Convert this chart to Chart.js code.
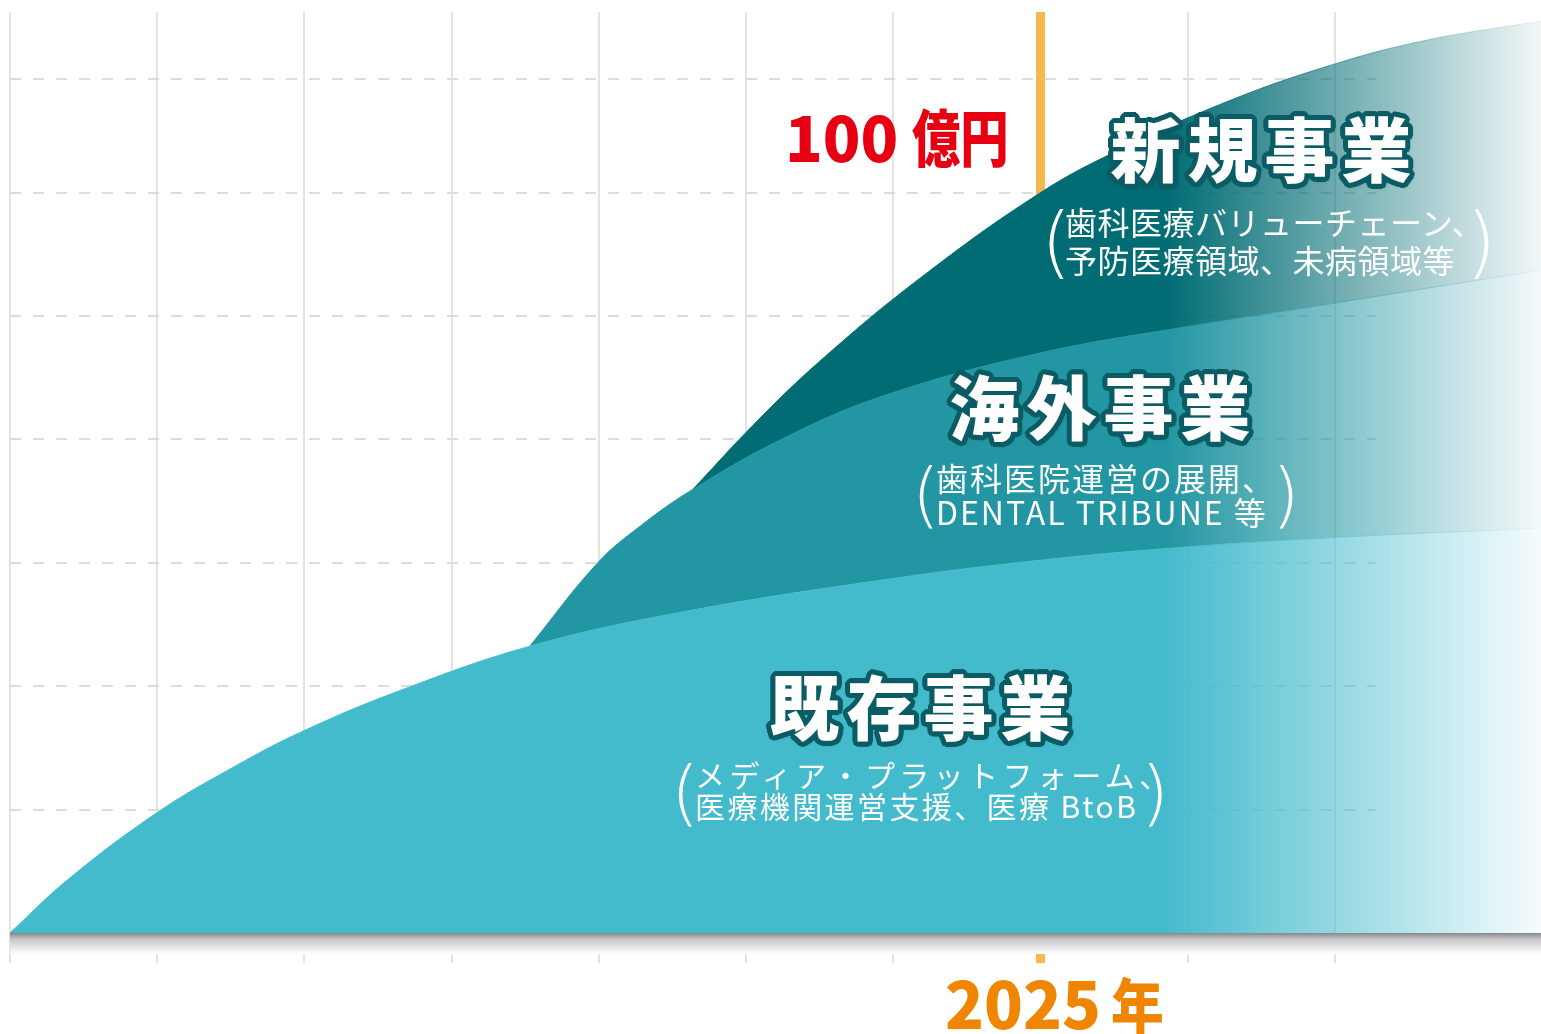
<!DOCTYPE html>
<html lang="ja">
<head>
<meta charset="utf-8">
<title>事業成長イメージ</title>
<script src="https://cdn.jsdelivr.net/npm/chart.js@4.4.0/dist/chart.umd.min.js"></script>
<style>
  html, body { margin: 0; padding: 0; background: #fff; }
  #wrap { position: relative; width: 1541px; height: 1034px; overflow: hidden;
          font-family: 'Noto Sans CJK JP', 'Noto Sans', sans-serif; }
  #wrap canvas { position: absolute; left: 0; top: 0; }
  .lbl { position: absolute; white-space: nowrap; line-height: 1; pointer-events: none; }
  .title { color: #fff; font-weight: 900; font-size: 70px; letter-spacing: 7px;
           transform: translate(-50%, -50%); padding-left: 7px; }
  .par { color: #fff; font-family: 'DejaVu Sans', sans-serif; font-weight: 200; }
  .lines { color: #fff; font-size: 32px; }
  .lines span { display: block; }
  .oku { color: #E60012; font-weight: 900; font-size: 62px; transform: translateY(-50%); }
  .oku .u { display: inline-block; transform: scaleX(.78); transform-origin: left center; margin-left: 14px; }
  .year { color: #EF8500; font-weight: 900; font-size: 64px; transform: translate(-50%, -50%); }
  .year .u { display: inline-block; margin-left: 10px; font-size: 60px; transform: scaleX(.88); transform-origin: left center; }
</style>
</head>
<body>
<div id="wrap">
  <canvas id="chart" width="1541" height="1034"></canvas>

  <div class="lbl oku" style="left:785px; top:135px;">100<span class="u">億円</span></div>

  <div class="lbl title" style="left:1261px; top:147px;">新規事業</div>
  <div class="lbl par" style="left:1041px; top:203px; font-size:78px;">(</div>
  <div class="lbl lines" style="left:1065px; top:202px; line-height:38px; letter-spacing:.5px;">
    <span>歯科医療バリューチェーン、</span><span>予防医療領域、未病領域等</span>
  </div>
  <div class="lbl par" style="left:1466px; top:203px; font-size:78px;">)</div>

  <div class="lbl title" style="left:1100px; top:405px;">海外事業</div>
  <div class="lbl par" style="left:912px; top:459px; font-size:71px;">(</div>
  <div class="lbl lines" style="left:936px; top:460px; line-height:34px; letter-spacing:2px;">
    <span>歯科医院運営の展開、</span><span>DENTAL TRIBUNE 等</span>
  </div>
  <div class="lbl par" style="left:1272px; top:459px; font-size:71px;">)</div>

  <div class="lbl title" style="left:920px; top:705px;">既存事業</div>
  <div class="lbl par" style="left:671px; top:756px; font-size:72px;">(</div>
  <div class="lbl lines" style="left:695px; top:759px; line-height:31px; font-size:30px;">
    <span style="letter-spacing:4.4px;">メディア・プラットフォーム、</span><span style="letter-spacing:2.4px;">医療機関運営支援、医療 BtoB</span>
  </div>
  <div class="lbl par" style="left:1141px; top:756px; font-size:72px;">)</div>

  <div class="lbl year" style="left:1058px; top:1001px;">2025<span class="u">年</span></div>
</div>

<script>
// 横軸 = 年、縦軸 = 億円（2025年の合計が100億円）
const xTicks = [2018, 2019, 2020, 2021, 2022, 2023, 2024, 2025, 2026, 2027];
const yTicks = [16.67, 33.33, 50, 66.67, 83.33, 100, 115.4];
const markYear = 2025;
const gridEndYear = 2027.27;   // 破線の横線はここまで

// 既存事業（いちばん下の層の上端）
const baseX = [2018, 2018.39, 2019, 2019.52, 2019.99, 2020.65, 2021.53, 2022.55, 2023.97, 2025, 2026, 2027.01, 2028.4];
const baseY = [0, 7.16, 16.27, 22.43, 27.26, 32.75, 38.72, 43.29, 47.8, 50.36, 52.15, 53.44, 54.69];
// 海外事業（累計）
const ovsX = [2021.53, 2021.99, 2022.28, 2022.64, 2023.28, 2023.96, 2025, 2026, 2027.01, 2028.4];
const ovsY = [38.72, 49.95, 54.94, 59.95, 67.06, 72.73, 78.34, 81.91, 85.12, 89.55];
// 新規事業（累計）
const newX = [2022.64, 2023.05, 2023.5, 2024.18, 2025, 2025.54, 2026.22, 2026.9, 2027.58, 2028.4];
const newY = [59.95, 68.63, 77.21, 88.42, 100, 105.83, 111.91, 116.77, 120.42, 123.2];

const C = { base: [68, 187, 205], ovs: [34, 150, 162], nw: [1, 108, 116] };

// 右端に向かって白くフェード
function fade(rgb) {
  const solid = `rgb(${rgb.join(',')})`;
  return (c) => {
    const a = c.chart.chartArea;
    if (!a) return solid;
    const g = c.chart.ctx.createLinearGradient(a.left, 0, a.right, 0);
    g.addColorStop(0, solid);
    g.addColorStop(0.755, solid);
    g.addColorStop(1, `rgba(${rgb.join(',')},0.05)`);
    return g;
  };
}

// 横の破線は右端まで伸ばさない
function yGridColor(c) {
  const chart = c.chart, a = chart.chartArea;
  if (!a) return '#dcdcdc';
  const stop = (chart.scales.x.getPixelForValue(gridEndYear) - a.left) / (a.right - a.left);
  const g = chart.ctx.createLinearGradient(a.left, 0, a.right, 0);
  g.addColorStop(0, '#dcdcdc');
  g.addColorStop(stop, '#dcdcdc');
  g.addColorStop(Math.min(1, stop + 0.001), 'rgba(220,220,220,0)');
  g.addColorStop(1, 'rgba(220,220,220,0)');
  return g;
}

const pts = (xs, ys) => xs.map((x, i) => ({ x, y: ys[i] }));

// 軸の下の影
const baseShadow = {
  id: 'baseShadow',
  afterDraw(chart) {
    const { ctx, chartArea: a } = chart;
    const g = ctx.createLinearGradient(0, a.bottom, 0, a.bottom + 21);
    g.addColorStop(0, 'rgb(135,135,138)');
    g.addColorStop(0.3, 'rgb(200,200,202)');
    g.addColorStop(1, 'rgb(255,255,255)');
    ctx.save();
    ctx.fillStyle = g;
    ctx.fillRect(a.left, a.bottom, a.right - a.left, 21);
    ctx.restore();
  }
};

// 見出しの縁取り
const ring = (r, col) => Array.from({ length: 24 }, (_, i) => {
  const t = i / 24 * Math.PI * 2;
  return `${(r * Math.cos(t)).toFixed(1)}px ${(r * Math.sin(t)).toFixed(1)}px 0 ${col}`;
}).join(',');
document.querySelectorAll('.title').forEach(el => {
  el.style.textShadow = ring(5, '#0B5C64') + ',' + ring(3, '#0B5C64') + ',2px 3px 4px rgba(0,40,45,.5)';
});

new Chart(document.getElementById('chart'), {
  type: 'line',
  data: {
    datasets: [
      { label: '既存事業', data: pts(baseX, baseY), fill: 'origin',
        backgroundColor: fade(C.base), borderColor: fade(C.base), borderWidth: 1 },
      { label: '海外事業', data: pts(ovsX, ovsY), fill: '-1',
        backgroundColor: fade(C.ovs), borderColor: fade(C.ovs), borderWidth: 1 },
      { label: '新規事業', data: pts(newX, newY), fill: '-1',
        backgroundColor: fade(C.nw), borderColor: fade(C.nw), borderWidth: 1 }
    ]
  },
  options: {
    responsive: false, animation: false,
    layout: { padding: { left: 10, top: 12, right: 0, bottom: 71 } },
    elements: { point: { radius: 0 }, line: { tension: 0.4 } },
    plugins: { legend: { display: false }, tooltip: { enabled: false } },
    scales: {
      x: {
        type: 'linear', min: 2018, max: 2028.4,
        afterBuildTicks: s => { s.ticks = xTicks.map(v => ({ value: v })); },
        ticks: { display: false },
        grid: {
          color: c => (c.tick && c.tick.value === markYear) ? '#F7B84D' : '#e3e3e3',
          lineWidth: c => (c.tick && c.tick.value === markYear) ? 9 : 2,
          drawTicks: true, tickLength: 30
        },
        border: { display: false }
      },
      y: {
        min: 0, max: 124.4,
        afterBuildTicks: s => { s.ticks = yTicks.map(v => ({ value: v })); },
        ticks: { display: false },
        grid: { color: yGridColor, lineWidth: 2, drawTicks: false },
        border: { display: false, dash: [11, 12] }
      }
    }
  },
  plugins: [baseShadow]
});
</script>
</body>
</html>
